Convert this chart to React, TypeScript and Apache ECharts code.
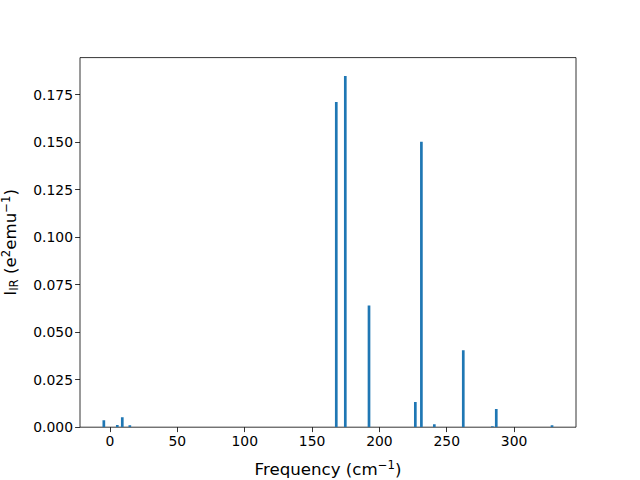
import React, { useEffect, useRef } from "react";
import * as echarts from "echarts";

const frequencies = [-4.6, 5.4, 9.1, 14.7, 168.0, 174.7, 192.3, 226.7, 231.2, 240.8, 262.3, 283.9, 286.8, 328.2];
const intensities = [0.0037, 0.0012, 0.0053, 0.001, 0.1712, 0.1848, 0.0641, 0.0132, 0.1502, 0.0016, 0.0405, 0.0005, 0.0096, 0.001];
const xTicks = [0, 50, 100, 150, 200, 250, 300];
const yTicks = [0, 0.025, 0.05, 0.075, 0.1, 0.125, 0.15, 0.175];
const barWidth = 2;

export default function App() {
  const ref = useRef<HTMLDivElement>(null);
  useEffect(() => {
    if (!ref.current) return;
    const chart = echarts.init(ref.current, undefined, { renderer: "svg" });
    const font = "DejaVu Sans";
    const data = frequencies.map((f, i) => [f, intensities[i]]);
    chart.setOption({
      animation: false,
      textStyle: { fontFamily: font },
      grid: {
        left: 80,
        right: 64,
        top: 57.6,
        bottom: 52.8,
        containLabel: false,
        outerBoundsMode: "none",
        show: true,
        borderColor: "#000",
        borderWidth: 0.8,
        backgroundColor: "transparent",
      },
      xAxis: {
        type: "value",
        min: -22.3,
        max: 346,
        splitLine: { show: false },
        axisLine: { show: false, onZero: false },
        axisTick: {
          show: true,
          length: 4.9,
          inside: false,
          customValues: xTicks,
          lineStyle: { color: "#000", width: 0.8 },
        },
        axisLabel: {
          customValues: xTicks,
          color: "#000",
          fontSize: 13.9,
          fontFamily: font,
          margin: 7,
        },
        name: "Frequency (cm{sup|−1})",
        nameLocation: "middle",
        nameGap: 32,
        nameTextStyle: {
          color: "#000",
          fontSize: 16.67,
          fontFamily: font,
          rich: {
            sup: { fontSize: 11.7, color: "#000", fontFamily: font, padding: [0, 0, 9, 0] },
          },
        },
      },
      yAxis: {
        type: "value",
        min: 0,
        max: 0.1945,
        splitLine: { show: false },
        axisLine: { show: false, onZero: false },
        axisTick: {
          show: true,
          length: 4.9,
          inside: false,
          customValues: yTicks,
          lineStyle: { color: "#000", width: 0.8 },
        },
        axisLabel: {
          customValues: yTicks,
          color: "#000",
          fontSize: 13.9,
          fontFamily: font,
          margin: 7,
          formatter: (v: number) => v.toFixed(3),
        },
        name: "I{sub|IR} (e{sup|2}emu{sup|−1})",
        nameLocation: "middle",
        nameGap: 59,
        nameTextStyle: {
          color: "#000",
          fontSize: 16.67,
          fontFamily: font,
          rich: {
            sub: { fontSize: 11.7, color: "#000", fontFamily: font, padding: [7, 0, 0, 0] },
            sup: { fontSize: 11.7, color: "#000", fontFamily: font, padding: [0, 0, 9, 0] },
          },
        },
      },
      series: [
        {
          type: "custom",
          data,
          clip: true,
          renderItem: (params: any, api: any) => {
            const x = api.value(0);
            const y = api.value(1);
            const p0 = api.coord([x - barWidth / 2, 0]);
            const p1 = api.coord([x + barWidth / 2, y]);
            return {
              type: "rect",
              shape: { x: p0[0], y: p1[1], width: p1[0] - p0[0], height: p0[1] - p1[1] },
              style: { fill: "#1f77b4" },
            };
          },
        },
      ],
    });
    return () => chart.dispose();
  }, []);
  return (
    <div
      ref={ref}
      style={{ position: "fixed", left: 0, top: 0, width: 640, height: 480, background: "#fff" }}
    />
  );
}
